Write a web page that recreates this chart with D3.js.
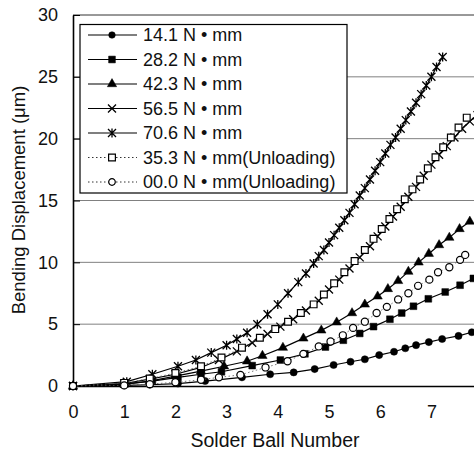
<!DOCTYPE html>
<html>
<head>
<meta charset="utf-8">
<script src="https://cdn.jsdelivr.net/npm/d3@7"></script>
<style>
  body { margin: 0; background: #fff; }
  svg { display: block; }
  text { font-family: "Liberation Sans", Arial, sans-serif; fill: #111; }
</style>
</head>
<body>
<div class="canvas"></div>
<script>
// values (x = solder ball number, y = displacement in um)
const x141 = [0, 1.0, 1.5, 2.05, 2.58, 3.3, 3.85, 4.31, 4.72, 5.09, 5.42, 5.70, 5.98, 6.27, 6.49, 6.70, 6.95, 7.21, 7.53, 7.79];
const y141 = [0, 0.05, 0.1, 0.2, 0.4, 0.7, 0.95, 1.1, 1.37, 1.7, 1.96, 2.16, 2.5, 2.77, 3.05, 3.3, 3.55, 3.8, 4.05, 4.35];

const x282 = [0, 1.0, 1.55, 2.05, 2.5, 2.9, 3.5, 4.05, 4.53, 4.93, 5.28, 5.6, 5.87, 6.19, 6.42, 6.65, 6.94, 7.27, 7.56, 7.82];
const y282 = [0, 0.15, 0.4, 0.7, 0.95, 1.15, 1.65, 2.1, 2.6, 3.15, 3.7, 4.25, 4.8, 5.4, 5.9, 6.45, 7.05, 7.6, 8.15, 8.7];

const x423 = [0, 1.0, 1.5, 2.0, 2.5, 2.95, 3.4, 3.7, 4.1, 4.5, 4.85, 5.15, 5.45, 5.7, 5.95, 6.15, 6.35, 6.55, 6.75, 6.95, 7.15, 7.35, 7.55, 7.75];
const y423 = [0, 0.15, 0.4, 0.8, 1.2, 1.6, 2.0, 2.45, 3.1, 3.85, 4.5, 5.15, 5.9, 6.6, 7.25, 7.85, 8.5, 9.25, 10.0, 10.7, 11.4, 12.0, 12.7, 13.3];

const x565 = [0, 1.0, 1.5, 2.0, 2.5, 2.85, 3.2, 3.5, 3.8, 4.05, 4.3, 4.55, 4.8, 5.0, 5.2, 5.4, 5.6, 5.8, 5.95, 6.1, 6.25, 6.4, 6.55, 6.7, 6.85, 7.0, 7.15, 7.3, 7.45, 7.6, 7.75, 7.9];
const y565 = [0, 0.2, 0.55, 0.95, 1.5, 2.1, 2.8, 3.5, 4.2, 4.8, 5.4, 6.1, 6.9, 7.8, 8.6, 9.5, 10.4, 11.3, 12.1, 12.9, 13.7, 14.5, 15.3, 16.1, 17.0, 17.9, 18.7, 19.4, 20.1, 20.8, 21.4, 21.9];

const x706 = [0, 1.05, 1.55, 2.05, 2.4, 2.7, 3.0, 3.2, 3.4, 3.6, 3.8, 4.0, 4.2, 4.4, 4.55, 4.7, 4.8, 4.9, 5.0, 5.1, 5.2, 5.3, 5.4, 5.5, 5.6, 5.7, 5.8, 5.9, 6.0, 6.1, 6.2, 6.3, 6.4, 6.5, 6.6, 6.7, 6.8, 6.9, 7.0, 7.1, 7.22];
const y706 = [0, 0.35, 0.95, 1.6, 2.1, 2.7, 3.3, 3.8, 4.3, 5.0, 5.8, 6.6, 7.5, 8.4, 9.1, 9.9, 10.5, 11.0, 11.6, 12.2, 12.8, 13.4, 14.0, 14.7, 15.4, 16.0, 16.7, 17.4, 18.1, 18.8, 19.5, 20.1, 20.8, 21.5, 22.2, 22.9, 23.6, 24.3, 25.0, 25.8, 26.6];

const x353u = [0, 1.0, 1.5, 2.0, 2.5, 2.9, 3.3, 3.65, 3.95, 4.2, 4.45, 4.7, 4.9, 5.1, 5.3, 5.5, 5.7, 5.87, 6.03, 6.18, 6.33, 6.48, 6.63, 6.78, 6.93, 7.08, 7.23, 7.38, 7.53, 7.69];
const y353u = [0, 0.25, 0.6, 1.05, 1.6, 2.3, 3.1, 3.9, 4.6, 5.2, 5.9, 6.6, 7.4, 8.3, 9.2, 10.1, 11.0, 11.9, 12.7, 13.5, 14.3, 15.1, 15.9, 16.7, 17.6, 18.5, 19.3, 20.1, 20.9, 21.7];

const x000u = [0, 1.0, 1.5, 2.0, 2.5, 2.85, 3.27, 3.76, 4.19, 4.5, 4.8, 5.03, 5.27, 5.47, 5.7, 5.93, 6.13, 6.35, 6.55, 6.74, 6.96, 7.13, 7.35, 7.56, 7.66];
const y000u = [0, 0.05, 0.15, 0.3, 0.5, 0.7, 0.9, 1.5, 2.0, 2.6, 3.2, 3.6, 4.1, 4.7, 5.2, 5.9, 6.4, 7.0, 7.5, 8.1, 8.6, 9.2, 9.6, 10.2, 10.6];

const legendLabels = ['14.1 N • mm', '28.2 N • mm', '42.3 N • mm', '56.5 N • mm', '70.6 N • mm',
  '35.3 N • mm(Unloading)', '00.0 N • mm(Unloading)'];
const xTicks = [0, 1, 2, 3, 4, 5, 6, 7];
const yTicks = [0, 5, 10, 15, 20, 25, 30];

const series = [
  { xs: x141, ys: y141, mark: 'dot', dash: null },
  { xs: x282, ys: y282, mark: 'square', dash: null },
  { xs: x423, ys: y423, mark: 'tri', dash: null },
  { xs: x565, ys: y565, mark: 'cross', dash: null },
  { xs: x706, ys: y706, mark: 'star', dash: null },
  { xs: x353u, ys: y353u, mark: 'osquare', dash: '1.5,2.5' },
  { xs: x000u, ys: y000u, mark: 'ocircle', dash: '1.5,2.5' }
];

const svg = d3.select('.canvas').append('svg')
  .attr('width', 474)
  .attr('height', 453);

const x = d3.scaleLinear().domain([0, 8]).range([73, 482.6]);
const y = d3.scaleLinear().domain([0, 30]).range([386, 15]);

// horizontal grid
svg.append('g').selectAll('line').data(yTicks.slice(1, -1)).enter().append('line')
  .attr('x1', x(0)).attr('x2', 474)
  .attr('y1', d => y(d)).attr('y2', d => y(d))
  .attr('stroke', '#808080').attr('stroke-width', 1);

// top frame
svg.append('line')
  .attr('x1', x(0)).attr('x2', 474).attr('y1', y(30)).attr('y2', y(30))
  .attr('stroke', '#333').attr('stroke-width', 1);

// axes
const yAxis = svg.append('g').attr('transform', `translate(${x(0)},0)`)
  .call(d3.axisLeft(y).tickValues(yTicks).tickSize(-7).tickSizeOuter(0).tickPadding(15));
const xAxis = svg.append('g').attr('transform', `translate(0,${y(0)})`)
  .call(d3.axisBottom(x).tickValues(xTicks).tickSize(0).tickPadding(19));

[yAxis, xAxis].forEach(a => {
  a.select('.domain').attr('stroke', '#000').attr('stroke-width', 1.6);
  a.selectAll('.tick line').attr('stroke', '#000');
  a.selectAll('text').style('font-size', '18px').attr('fill', '#111');
});

// axis titles
svg.append('text')
  .attr('x', 275).attr('y', 447)
  .attr('text-anchor', 'middle')
  .style('font-size', '19.5px')
  .text('Solder Ball Number');

svg.append('text')
  .attr('transform', 'translate(25,200) rotate(-90)')
  .attr('text-anchor', 'middle')
  .style('font-size', '18.5px')
  .text('Bending Displacement (μm)');

// marker shapes
function markPath(kind, s) {
  if (kind === 'dot' || kind === 'ocircle') return d3.symbol(d3.symbolCircle, s === 'legend' ? 34 : 40)();
  if (kind === 'square' || kind === 'osquare') return d3.symbol(d3.symbolSquare, 46)();
  if (kind === 'tri') return d3.symbol(d3.symbolTriangle, 38)();
  const r = 4;
  let p = `M${-r},${-r}L${r},${r}M${-r},${r}L${r},${-r}`;
  if (kind === 'star') p += `M0,${-r - 0.5}L0,${r + 0.5}`;
  return p;
}

function styleMark(sel, kind) {
  const hollow = kind === 'ocircle' || kind === 'osquare';
  const stroked = kind === 'cross' || kind === 'star';
  sel.attr('fill', hollow || stroked ? (hollow ? '#fff' : 'none') : '#000')
    .attr('stroke', '#000')
    .attr('stroke-width', hollow ? 1.2 : stroked ? 1.3 : 0.5);
}

const line = d3.line().x(d => x(d[0])).y(d => y(d[1]));
const plot = svg.append('g');

series.forEach(s => {
  const pts = s.xs.map((v, i) => [v, s.ys[i]]);
  plot.append('path')
    .attr('d', line(pts))
    .attr('fill', 'none')
    .attr('stroke', s.dash ? '#555' : '#000')
    .attr('stroke-width', s.dash ? 0.8 : 1.2)
    .attr('stroke-dasharray', s.dash);
  plot.selectAll(null).data(pts).enter().append('path')
    .attr('transform', d => `translate(${x(d[0])},${y(d[1])})`)
    .attr('d', markPath(s.mark))
    .call(styleMark, s.mark);
});

// legend
const legend = svg.append('g');
legend.append('rect')
  .attr('x', 80).attr('y', 24.5).attr('width', 267).attr('height', 168.5)
  .attr('fill', '#fff').attr('stroke', '#000').attr('stroke-width', 1.2);

const rows = legend.selectAll('.row').data(series).enter().append('g')
  .attr('class', 'row')
  .attr('transform', (d, i) => `translate(0,${35 + i * 24.5})`);

rows.append('line')
  .attr('x1', 88).attr('x2', 137)
  .attr('stroke', d => d.dash ? '#333' : '#000')
  .attr('stroke-width', d => d.dash ? 1 : 1.2)
  .attr('stroke-dasharray', d => d.dash);

rows.append('path')
  .attr('transform', 'translate(112,0)')
  .attr('d', d => markPath(d.mark, 'legend'))
  .each(function (d) { d3.select(this).call(styleMark, d.mark); });

rows.append('text')
  .attr('x', 143).attr('dy', '0.35em')
  .style('font-size', '18px')
  .text((d, i) => legendLabels[i]);
</script>
</body>
</html>
